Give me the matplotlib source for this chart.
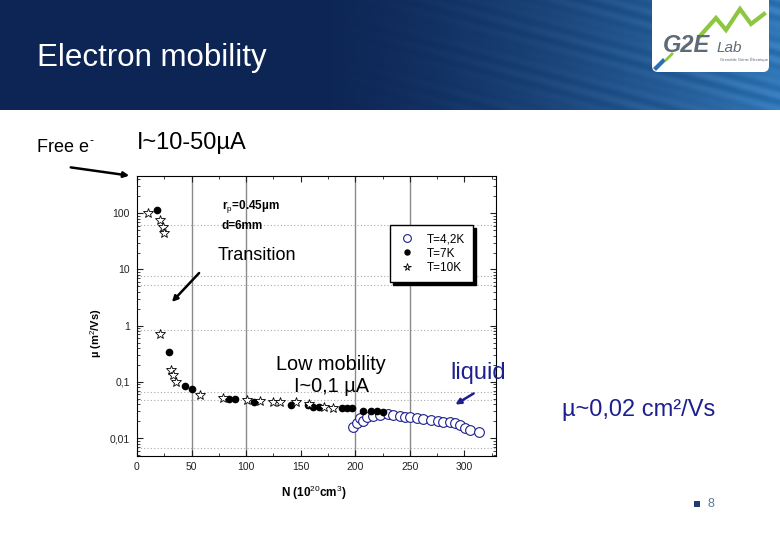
import numpy as np
import matplotlib.pyplot as plt
from matplotlib.patches import FancyBboxPatch, Rectangle

plt.rcParams['font.family'] = ['Liberation Sans', 'DejaVu Sans']
plt.rcParams['mathtext.fontset'] = 'custom'
plt.rcParams['mathtext.rm'] = 'Liberation Sans'
plt.rcParams['mathtext.it'] = 'Liberation Sans:italic'
plt.rcParams['mathtext.bf'] = 'Liberation Sans:bold'

# --- data ---
# T=4,2K (open circles, liquid)
circ_n = [198, 202, 204, 207, 211, 216, 223, 230, 235, 241, 246, 250, 257,
          262, 269, 276, 280, 287, 291, 296, 301, 305, 313]
circ_mu = [0.0158, 0.0186, 0.023, 0.020, 0.0237, 0.0247, 0.026, 0.027, 0.026,
           0.0247, 0.0237, 0.0237, 0.0226, 0.0218, 0.021, 0.020, 0.0193,
           0.0193, 0.0186, 0.0171, 0.0151, 0.0139, 0.0128]
# T=7K (filled dots)
dot_n = [18, 29, 44, 50, 84, 90, 107, 141, 157, 161, 167, 188, 192, 197,
         207, 214, 220, 225]
dot_mu = [115, 0.34, 0.085, 0.075, 0.05, 0.05, 0.044, 0.039, 0.039, 0.036,
          0.036, 0.034, 0.034, 0.034, 0.030, 0.030, 0.030, 0.029]
# T=10K (open stars)
star_n = [10, 21, 24, 25, 21, 31, 33, 36, 58, 79, 101, 113, 125, 131, 146,
          158, 171, 180]
star_mu = [100, 75, 58, 44, 0.72, 0.16, 0.13, 0.10, 0.059, 0.052, 0.048,
           0.046, 0.044, 0.044, 0.044, 0.040, 0.036, 0.034]

series_labels = ['T=4,2K', 'T=7K', 'T=10K']
x_ticks = [0, 50, 100, 150, 200, 250, 300]
y_ticks = [0.01, 0.1, 1, 10, 100]
y_tick_labels = ['0,01', '0,1', '1', '10', '100']
v_grid = [50, 100, 200, 250]
h_dots = [61, 7.5, 5.4, 0.85, 0.066, 0.048, 0.0066]

W, H = 780, 540
NAVY = '#1c1f8c'
fig = plt.figure(figsize=(7.8, 5.4), dpi=100, facecolor='white')

# --- slide background / header ---
bg = fig.add_axes([0, 0, 1, 1], zorder=0)
yy, xx = np.mgrid[0:110, 0:W]
w = np.clip((xx / W - 0.4) / 0.6, 0, 1) ** 1.4
left = np.array([13, 37, 84]) / 255
right = np.array([38, 108, 172]) / 255
streak = 0.5 + 0.5 * np.sin((yy - 0.27 * xx) * 0.45) * np.sin((yy - 0.27 * xx) * 0.07)
img = left * (1 - w[..., None]) + right * w[..., None] + (0.09 * streak * w)[..., None]
bg.imshow(np.clip(img, 0, 1), extent=(0, W, 110, 0), aspect='auto')
bg.set_xlim(0, W)
bg.set_ylim(H, 0)
bg.axis('off')
bg.text(37, 58, 'Electron mobility', color='white', fontsize=22.5, va='center')

# logo
bg.add_patch(FancyBboxPatch((652, -10), 117, 82, boxstyle='round,pad=0,rounding_size=6',
                            fc='white', ec='none'))
bg.plot([700, 716, 726, 740, 751, 764], [36, 18, 30, 9, 24, 14], color='#8dc63f', lw=3,
        solid_joinstyle='miter')
bg.text(663, 46, 'G2E', fontsize=17, fontweight='bold', style='italic', color='#5d6b78', va='center')
bg.text(717, 48, 'Lab', fontsize=11, style='italic', color='#5d6b78', va='center')
bg.text(720, 60, 'Grenoble Génie Électrique', fontsize=3, color='#5d6b78', va='center')
bg.plot([656, 663], [68, 61], color='#2a6fb5', lw=3)
bg.plot([666, 672], [60, 54], color='#8dc63f', lw=2)

# --- chart ---
ax = fig.add_axes([137 / W, 1 - 456 / H, 359 / W, 280 / H], zorder=2)
ax.set_yscale('log')
ax.set_xlim(0, 329)
ax.set_ylim(0.0048, 460)
for v in v_grid:
    ax.axvline(v, color='#8a8a8a', lw=1, zorder=1)
for h in h_dots:
    ax.axhline(h, color='#aaaaaa', lw=0.8, ls=(0, (1, 2)), zorder=1)

hc, = ax.plot(circ_n, circ_mu, 'o', ms=7, mfc='white', mec=NAVY, mew=0.8, ls='none', zorder=3)
hd, = ax.plot(dot_n, dot_mu, 'o', ms=4.5, mfc='black', mec='black', ls='none', zorder=4)
hs, = ax.plot(star_n, star_mu, '*', ms=7, mfc='white', mec='black', mew=0.6, ls='none', zorder=4)

ax.set_xticks(x_ticks)
ax.set_xticks(np.arange(25, 329, 50), minor=True)
ax.set_yticks(y_ticks)
ax.set_yticklabels(y_tick_labels)
ax.tick_params(which='both', direction='in', top=True, right=True, colors='#222222',
               labelsize=7.5)
ax.tick_params(which='major', length=4)
ax.tick_params(which='minor', length=2)
ax.tick_params(axis='y', pad=5)
ax.tick_params(axis='x', pad=4)
for s in ax.spines.values():
    s.set_linewidth(0.8)

ax.legend([hc, hd, hs], series_labels, loc='upper left', bbox_to_anchor=(0.705, 0.825),
          borderaxespad=0, fancybox=False, edgecolor='black', framealpha=1,
          shadow={'color': 'black', 'alpha': 1}, fontsize=8.5, markerscale=0.8,
          handlelength=1.4, handletextpad=1.0, labelspacing=0.2, borderpad=0.7)

# --- overlay texts and arrows ---
ov = fig.add_axes([0, 0, 1, 1], zorder=5)
ov.patch.set_alpha(0)
ov.set_xlim(0, W)
ov.set_ylim(H, 0)
ov.axis('off')

ov.text(37, 147, 'Free e', fontsize=13, va='center')
ov.text(89, 141, '-', fontsize=9, va='center')
ov.text(137, 143, 'I~10-50µA', fontsize=17, va='center')
ov.annotate('', xy=(132, 176), xytext=(68, 167),
            arrowprops=dict(arrowstyle='-|>', lw=1.8, color='black', mutation_scale=8))

ov.text(222, 207, r'r$_{\rm p}$=0.45µm', fontsize=8.5, fontweight='bold', va='center')
ov.text(222, 226, 'd=6mm', fontsize=8.5, fontweight='bold', va='center')
ov.text(218, 255, 'Transition', fontsize=13, va='center')
ov.annotate('', xy=(170, 304), xytext=(201, 271),
            arrowprops=dict(arrowstyle='-|>', lw=1.8, color='black', mutation_scale=8))

ov.text(331, 365, 'Low mobility', fontsize=14.3, ha='center', va='center')
ov.text(331, 387, 'I~0,1 µA', fontsize=14.3, ha='center', va='center')
ov.text(450, 373, 'liquid', fontsize=17, color=NAVY, va='center')
ov.annotate('', xy=(453, 406), xytext=(476, 392),
            arrowprops=dict(arrowstyle='-|>', lw=1.8, color=NAVY, mutation_scale=8))
ov.text(562, 410, 'µ~0,02 cm²/Vs', fontsize=17, color=NAVY, va='center')

ov.text(96, 333, r'µ (m$^{2}$/Vs)', fontsize=8, fontweight='bold', rotation=90,
        ha='center', va='center')
ov.text(314, 493, r'N (10$^{20}$cm$^{3}$)', fontsize=8.5, fontweight='bold',
        ha='center', va='center')

ov.add_patch(Rectangle((694, 501), 6, 6, fc='#1e3c6e', ec='none'))
ov.text(707, 504, '8', fontsize=9, color='#5a7a96', va='center')

fig.savefig('out.png', dpi=100, facecolor='white')
